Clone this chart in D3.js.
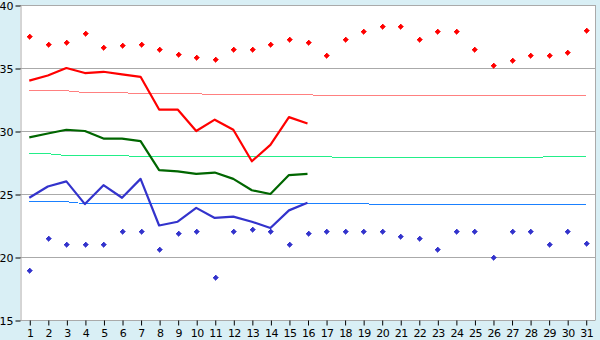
<!DOCTYPE html>
<html>
<head>
<meta charset="utf-8">
<script src="https://cdn.jsdelivr.net/npm/d3@7"></script>
<style>
  body { margin: 0; background: #d9eff5; }
  svg { display: block; }
  .axis text { font-family: "DejaVu Sans", Verdana, sans-serif; font-size: 11px; fill: #000; }
</style>
</head>
<body>
<script>
const days = [1,2,3,4,5,6,7,8,9,10,11,12,13,14,15,16,17,18,19,20,21,22,23,24,25,26,27,28,29,30,31];

// record highs / lows (markers)
const recordMax = [37.5,36.9,37.1,37.8,36.7,36.8,36.9,36.5,36.1,35.9,35.7,36.5,36.5,36.9,37.3,37.1,
    36.0,37.3,37.9,38.3,38.3,37.3,37.9,37.9,36.5,35.2,35.6,36.0,36.0,36.3,38.0];
const recordMin = [19.0,21.5,21.0,21.0,21.0,22.1,22.1,20.6,21.9,22.1,18.4,22.1,22.2,22.1,21.0,21.9,
    22.1,22.1,22.1,22.1,21.7,21.5,20.6,22.1,22.1,20.0,22.1,22.1,21.0,22.1,21.1];

// observed (first 16 days)
const tMax = [34.0,34.4,35.0,34.6,34.7,34.5,34.3,31.7,31.7,30.0,30.9,30.1,27.6,28.9,31.1,30.6];
const tMean = [29.5,29.8,30.1,30.0,29.4,29.4,29.2,26.9,26.8,26.6,26.7,26.2,25.3,25.0,26.5,26.6];
const tMin = [24.7,25.6,26.0,24.2,25.7,24.7,26.2,22.5,22.8,23.9,23.1,23.2,22.8,22.3,23.7,24.3];

// normals
const normMax = [33.2,33.2,33.2,33.04,33.04,33.04,32.96,32.96,32.96,32.96,32.88,32.88,32.88,32.88,32.88,32.88,
    32.8,32.8,32.8,32.8,32.8,32.8,32.8,32.8,32.8,32.8,32.8,32.8,32.8,32.8,32.8];
const normMean = [28.2,28.2,28.05,28.05,28.05,28.05,27.96,27.96,27.96,27.96,27.96,27.96,27.96,27.96,27.96,27.96,
    27.96,27.88,27.88,27.88,27.88,27.88,27.88,27.88,27.88,27.88,27.88,27.88,27.96,27.96,27.96];
const normMin = [24.39,24.39,24.39,24.23,24.23,24.23,24.23,24.23,24.23,24.23,24.23,24.23,24.23,24.23,24.23,24.23,
    24.23,24.23,24.23,24.15,24.15,24.15,24.15,24.15,24.15,24.15,24.15,24.15,24.15,24.15,24.15];

const yTicks = [15,20,25,30,35,40];

const width = 600;
const height = 340;
const margin = { top: 5, right: 5, bottom: 20, left: 20 };

const svg = d3.select("body").append("svg")
    .attr("width", width)
    .attr("height", height);

const x = d3.scalePoint()
    .domain(days)
    .range([margin.left, width - margin.right])
    .padding(0.5);

const y = d3.scaleLinear()
    .domain([15, 40])
    .range([height - margin.bottom, margin.top]);

// plot background
svg.append("rect")
    .attr("x", margin.left)
    .attr("y", margin.top)
    .attr("width", width - margin.left - margin.right)
    .attr("height", height - margin.top - margin.bottom)
    .attr("fill", "#fff");

// gridlines
svg.append("g")
    .selectAll("line")
    .data(yTicks.slice(1))
    .enter()
    .append("line")
    .attr("x1", margin.left)
    .attr("x2", width - margin.right)
    .attr("y1", d => Math.round(y(d)) + 0.5)
    .attr("y2", d => Math.round(y(d)) + 0.5)
    .attr("stroke", "#aaa");

// right border
svg.append("line")
    .attr("x1", width - margin.right + 0.5)
    .attr("x2", width - margin.right + 0.5)
    .attr("y1", margin.top)
    .attr("y2", height - margin.bottom)
    .attr("stroke", "#aaa");

// axes
const xAxis = svg.append("g")
    .attr("class", "axis")
    .attr("transform", `translate(0.5,${Math.round(y(15)) + 0.5})`)
    .call(d3.axisBottom(x).tickSize(5).tickPadding(4).tickSizeOuter(0));

const yAxis = svg.append("g")
    .attr("class", "axis")
    .attr("transform", `translate(${margin.left + 0.5},0.5)`)
    .call(d3.axisLeft(y).tickValues(yTicks).tickSize(5).tickPadding(2).tickSizeOuter(0));

svg.selectAll(".axis path, .axis line").attr("stroke", "#aaa");
xAxis.select(".domain").attr("d", `M${margin.left},0H${width - margin.right}`);
xAxis.selectAll(".tick line").attr("stroke", "#000");
yAxis.selectAll(".tick line").attr("stroke", "#000");
xAxis.selectAll("text").attr("letter-spacing", "-0.6px");

// lines
const line = d3.line()
    .x((d, i) => x(days[i]))
    .y(d => y(d));

function drawLine(values, color, w, crisp) {
    svg.append("path")
        .datum(values)
        .attr("fill", "none")
        .attr("stroke", color)
        .attr("stroke-width", w)
        .attr("stroke-linejoin", "round")
        .attr("shape-rendering", crisp ? "crispEdges" : "auto")
        .attr("d", line);
}

drawLine(normMax, "#ff8080", 1, true);
drawLine(normMean, "#22ee88", 1, true);
drawLine(normMin, "#1a80ff", 1, true);

drawLine(tMax, "#ff0000", 2.2, false);
drawLine(tMean, "#006600", 2.2, false);
drawLine(tMin, "#3333cc", 2.2, false);

// markers (small pixel diamond)
const marker = "M-0.5,-2.5h1v1h1v1h1v1h-1v1h-1v1h-1v-1h-1v-1h-1v-1h1v-1h1z";

function drawMarkers(values, color) {
    svg.append("g")
        .selectAll("path")
        .data(values)
        .enter()
        .append("path")
        .attr("transform", (d, i) => `translate(${Math.round(x(days[i])) + 0.5},${Math.round(y(d)) + 0.5})`)
        .attr("d", marker)
        .attr("fill", color)
        .attr("stroke", color)
        .attr("stroke-width", 0.6)
        .attr("shape-rendering", "crispEdges");
}

drawMarkers(recordMax, "#ff0000");
drawMarkers(recordMin, "#3333cc");
</script>
</body>
</html>
